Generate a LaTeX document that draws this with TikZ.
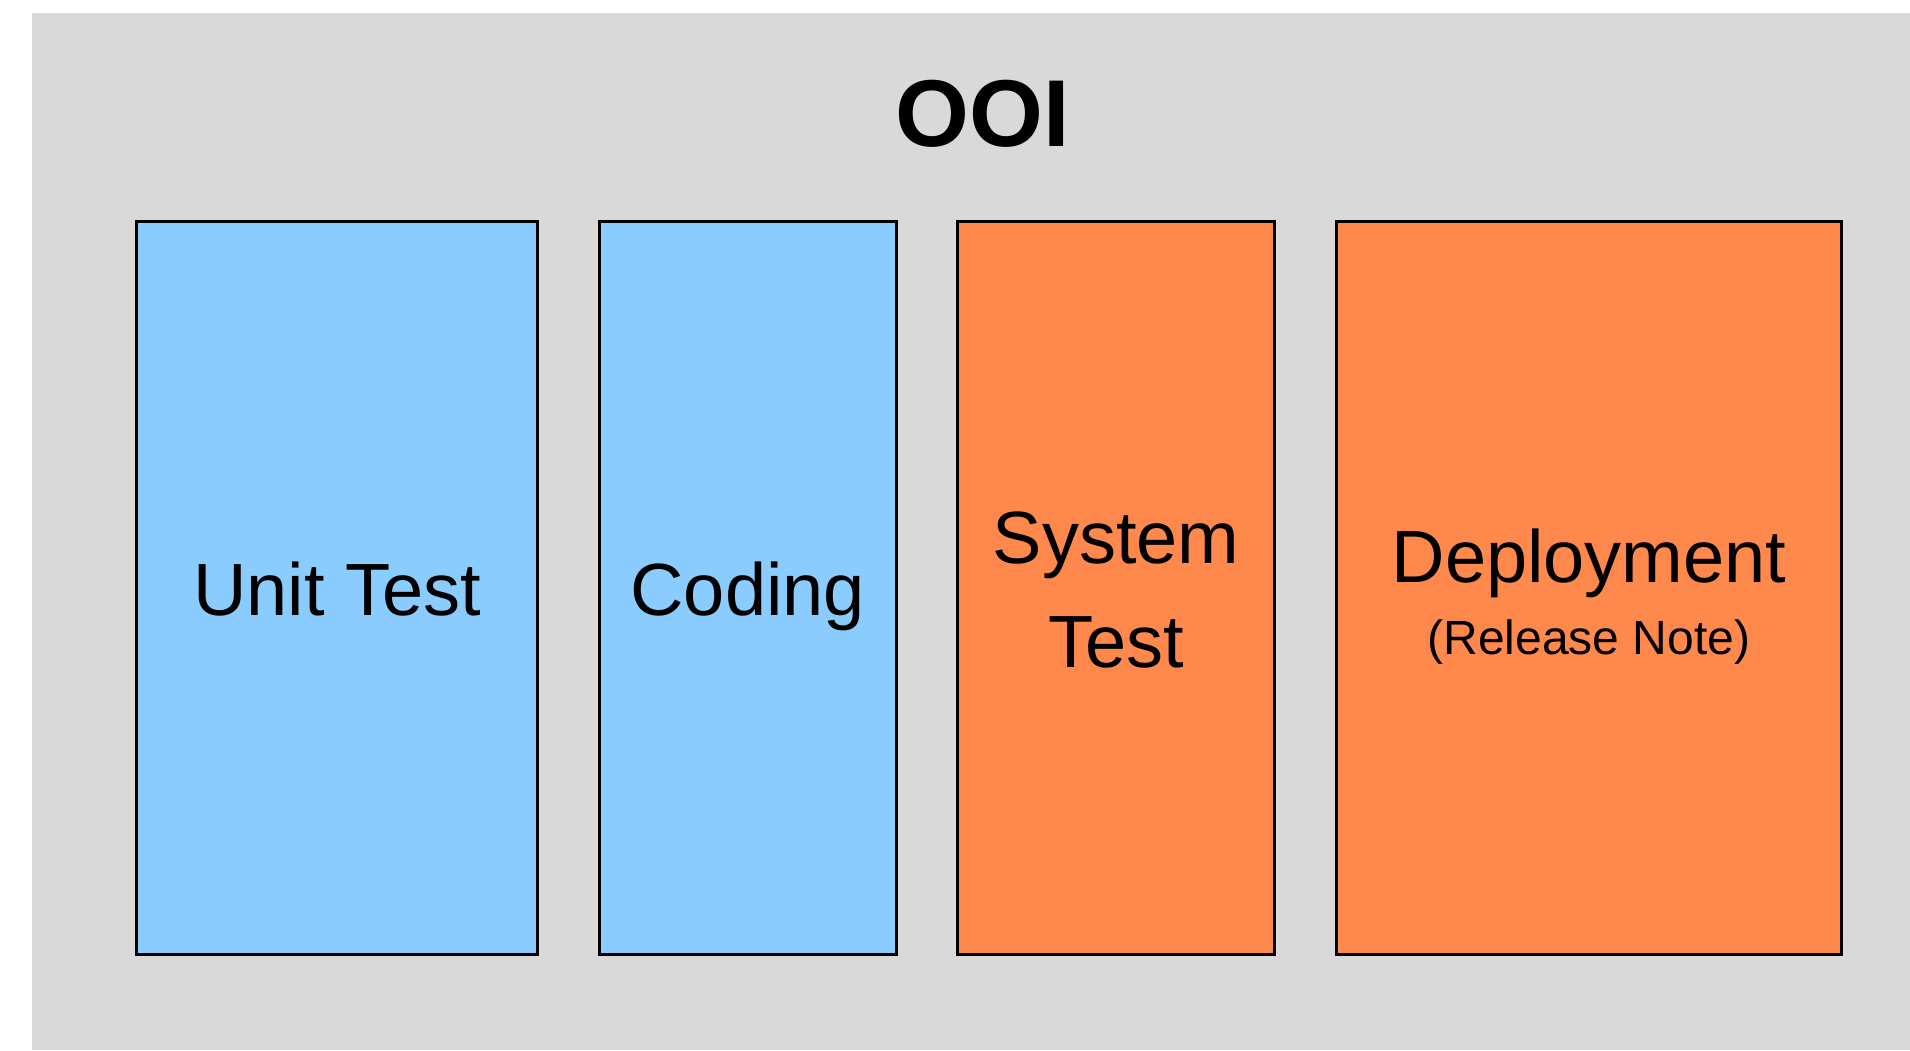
\documentclass[tikz,border=0pt]{standalone}
\usepackage{fontspec}
\setmainfont{Liberation Sans}
\definecolor{panelgray}{HTML}{D9D9D9}
\definecolor{devblue}{HTML}{89CCFD}
\definecolor{opsorange}{HTML}{FF884D}
\begin{document}
\begin{tikzpicture}[x=1pt,y=-1pt,
  phase/.style={draw=black, line width=3pt, inner sep=0pt, minimum height=732.5pt},
  devphase/.style={phase, fill=devblue},
  opsphase/.style={phase, fill=opsorange},
  biglabel/.style={anchor=base, inner sep=0pt, font=\fontsize{74}{88}\selectfont},
  smalllabel/.style={anchor=base, inner sep=0pt, font=\fontsize{48}{58}\selectfont}]
\useasboundingbox (0,0) rectangle (1910,1050);
% background panel
\fill[panelgray] (32,13) rectangle (1910,1050);
% title
\node[anchor=base, inner sep=0pt, font=\fontsize{95}{100}\selectfont\bfseries] (title) at (983,146.5) {OOI};
% phases
\node[devphase, minimum width=401pt] (unit) at (337,587.75) {};
\node[devphase, minimum width=297.5pt] (coding) at (747.75,587.75) {};
\node[opsphase, minimum width=317pt] (system) at (1116,587.75) {};
\node[opsphase, minimum width=505pt] (deploy) at (1589,587.75) {};
% phase labels
\node[biglabel] (unitlbl) at (337,615) {Unit Test};
\node[biglabel] (codinglbl) at (747.75,615) {Coding};
\node[biglabel] (systemlbl1) at (1116,563) {System};
\node[biglabel] (systemlbl2) at (1116,667.5) {Test};
\node[biglabel] (deploylbl) at (1589,582) {Deployment};
\node[smalllabel] (notelbl) at (1589,654) {(Release Note)};
\end{tikzpicture}
\end{document}
